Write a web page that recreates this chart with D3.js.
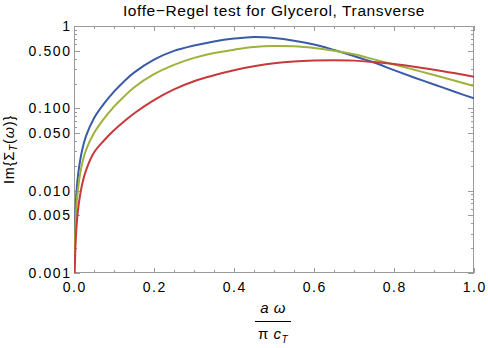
<!DOCTYPE html>
<html><head><meta charset="utf-8">
<script src="https://cdn.jsdelivr.net/npm/d3@7/dist/d3.min.js"></script>
<style>
html,body{margin:0;padding:0;background:#fff;}
text{font-family:"Liberation Sans",Arial,Helvetica,sans-serif;fill:#000;}
</style></head>
<body><svg id="chart" width="488" height="348"></svg>
<script>
// ---- data ----
const titleText = "Ioffe\u2212Regel test for Glycerol, Transverse";
const xValues = [0.0014,0.005,0.01,0.02,0.03,0.05,0.075,0.1,0.125,0.15,0.2,0.25,0.3,0.35,0.4,0.45,0.5,0.55,0.6,0.65,0.7,0.75,0.8,0.85,0.9,0.95,1.0];
const blueValues = [0.0021,0.0077,0.0153,0.0305,0.046,0.076,0.114,0.1596,0.2123,0.2716,0.3906,0.4982,0.5794,0.65,0.7031,0.7352,0.715,0.664,0.595,0.511,0.432,0.360,0.291,0.237,0.195,0.160,0.132];
const greenValues = [0.0015,0.0053,0.0105,0.021,0.031,0.05,0.0749,0.1049,0.1388,0.1795,0.2597,0.3368,0.4096,0.47,0.516,0.556,0.572,0.566,0.54,0.502,0.453,0.393,0.341,0.2945,0.254,0.218,0.187];
const redValues = [0.00085,0.0029,0.0058,0.0117,0.0176,0.029,0.0407,0.0542,0.0693,0.0867,0.126,0.17,0.2134,0.2518,0.2895,0.3238,0.3523,0.3714,0.3809,0.3841,0.3797,0.3642,0.3445,0.320,0.2945,0.268,0.242];
const seriesColors = ["#3b5ba8","#9db23a","#c8393b"];
const xMajorTicks = [0,0.2,0.4,0.6,0.8,1.0];
const xTickLabels = ["0.0","0.2","0.4","0.6","0.8","1.0"];
const xMinorTicks = [0.05,0.1,0.15,0.25,0.3,0.35,0.45,0.5,0.55,0.65,0.7,0.75,0.85,0.9,0.95];
const yMajorTicks = [0.001,0.005,0.01,0.05,0.1,0.5,1];
const yTickLabels = ["0.001","0.005","0.010","0.050","0.100","0.500","1"];
const yMinorTicks = [0.002,0.003,0.004,0.006,0.007,0.008,0.009,0.02,0.03,0.04,0.06,0.07,0.08,0.09,0.2,0.3,0.4,0.6,0.7,0.8,0.9];

// ---- layout ----
const L = 74, R = 474, T = 26, B = 273;
const frameColor = "#9a9a9a";
const svg = d3.select("#chart");
const x = d3.scaleLinear().domain([0,1]).range([L,R]);
const y = d3.scaleLog().domain([0.001,1]).range([B,T]);

svg.append("defs").append("clipPath").attr("id","plotclip")
  .append("rect").attr("x",L).attr("y",T).attr("width",R-L).attr("height",B-T);

// frame
svg.append("rect").attr("x",L+0.5).attr("y",T+0.5).attr("width",R-L-1).attr("height",B-T-1)
  .attr("fill","none").attr("stroke",frameColor).attr("stroke-width",1);

const tickG = svg.append("g").attr("stroke",frameColor).attr("stroke-width",1);
function xTick(v,len){
  const px = Math.round(x(v))+0.5;
  tickG.append("line").attr("x1",px).attr("x2",px).attr("y1",B).attr("y2",B-len);
  tickG.append("line").attr("x1",px).attr("x2",px).attr("y1",T).attr("y2",T+len);
}
function yTick(v,len){
  const py = Math.round(y(v))+0.5;
  tickG.append("line").attr("x1",L).attr("x2",L+len).attr("y1",py).attr("y2",py);
  tickG.append("line").attr("x1",R).attr("x2",R-len).attr("y1",py).attr("y2",py);
}
xMajorTicks.forEach(v=>xTick(v,5));
xMinorTicks.forEach(v=>xTick(v,3));
yMajorTicks.forEach(v=>yTick(v,6));
yMinorTicks.forEach(v=>yTick(v,3));

// tick labels
const ls = 1.6;
svg.append("g").selectAll("text").data(xMajorTicks).join("text")
  .attr("x",d=>x(d)+ls/2).attr("y",291.5).attr("text-anchor","middle")
  .attr("font-size",14).attr("letter-spacing",ls).text((d,i)=>xTickLabels[i]);
svg.append("g").selectAll("text").data(yMajorTicks).join("text")
  .attr("x",70+ls).attr("y",d=>y(d)+5).attr("text-anchor","end")
  .attr("font-size",14).attr("letter-spacing",ls).text((d,i)=>yTickLabels[i]);

// curves
const line = d3.line().x(d=>x(d[0])).y(d=>y(d[1])).curve(d3.curveCatmullRom.alpha(0.5));
const plotG = svg.append("g").attr("clip-path","url(#plotclip)");
[blueValues,greenValues,redValues].forEach((vals,i)=>{
  plotG.append("path").datum(xValues.map((xv,j)=>[xv,vals[j]]))
    .attr("d",line).attr("fill","none").attr("stroke",seriesColors[i])
    .attr("stroke-width",2).attr("stroke-linejoin","round");
});

// title
svg.append("text").attr("x",(L+R)/2).attr("y",16).attr("text-anchor","middle")
  .attr("font-size",15.5).attr("letter-spacing",0.6).text(titleText);

// x axis label (fraction)
const fx = 273;
const num = svg.append("text").attr("x",fx).attr("y",313).attr("text-anchor","middle")
  .attr("font-size",15).attr("font-style","italic").attr("letter-spacing",0.5);
num.append("tspan").text("a \u03c9");
svg.append("line").attr("x1",255).attr("x2",291).attr("y1",321.5).attr("y2",321.5)
  .attr("stroke","#000").attr("stroke-width",1);
const den = svg.append("text").attr("x",fx).attr("y",338.5).attr("text-anchor","middle")
  .attr("font-size",15).attr("letter-spacing",0.5);
den.append("tspan").text("\u03c0 ");
den.append("tspan").attr("font-style","italic").text("c");
den.append("tspan").attr("font-style","italic").attr("font-size",10).attr("dy",4).text("T");

// y axis label
const yl = svg.append("text").attr("transform","translate(14,149.5) rotate(-90)")
  .attr("text-anchor","middle").attr("font-size",14.5).attr("letter-spacing",0.8);
yl.append("tspan").text("Im{\u03a3");
yl.append("tspan").attr("font-style","italic").attr("font-size",10).attr("dy",3).text("T");
yl.append("tspan").attr("dy",-3).text("(");
yl.append("tspan").attr("font-style","italic").text("\u03c9");
yl.append("tspan").text(")}");
</script>
</body></html>
